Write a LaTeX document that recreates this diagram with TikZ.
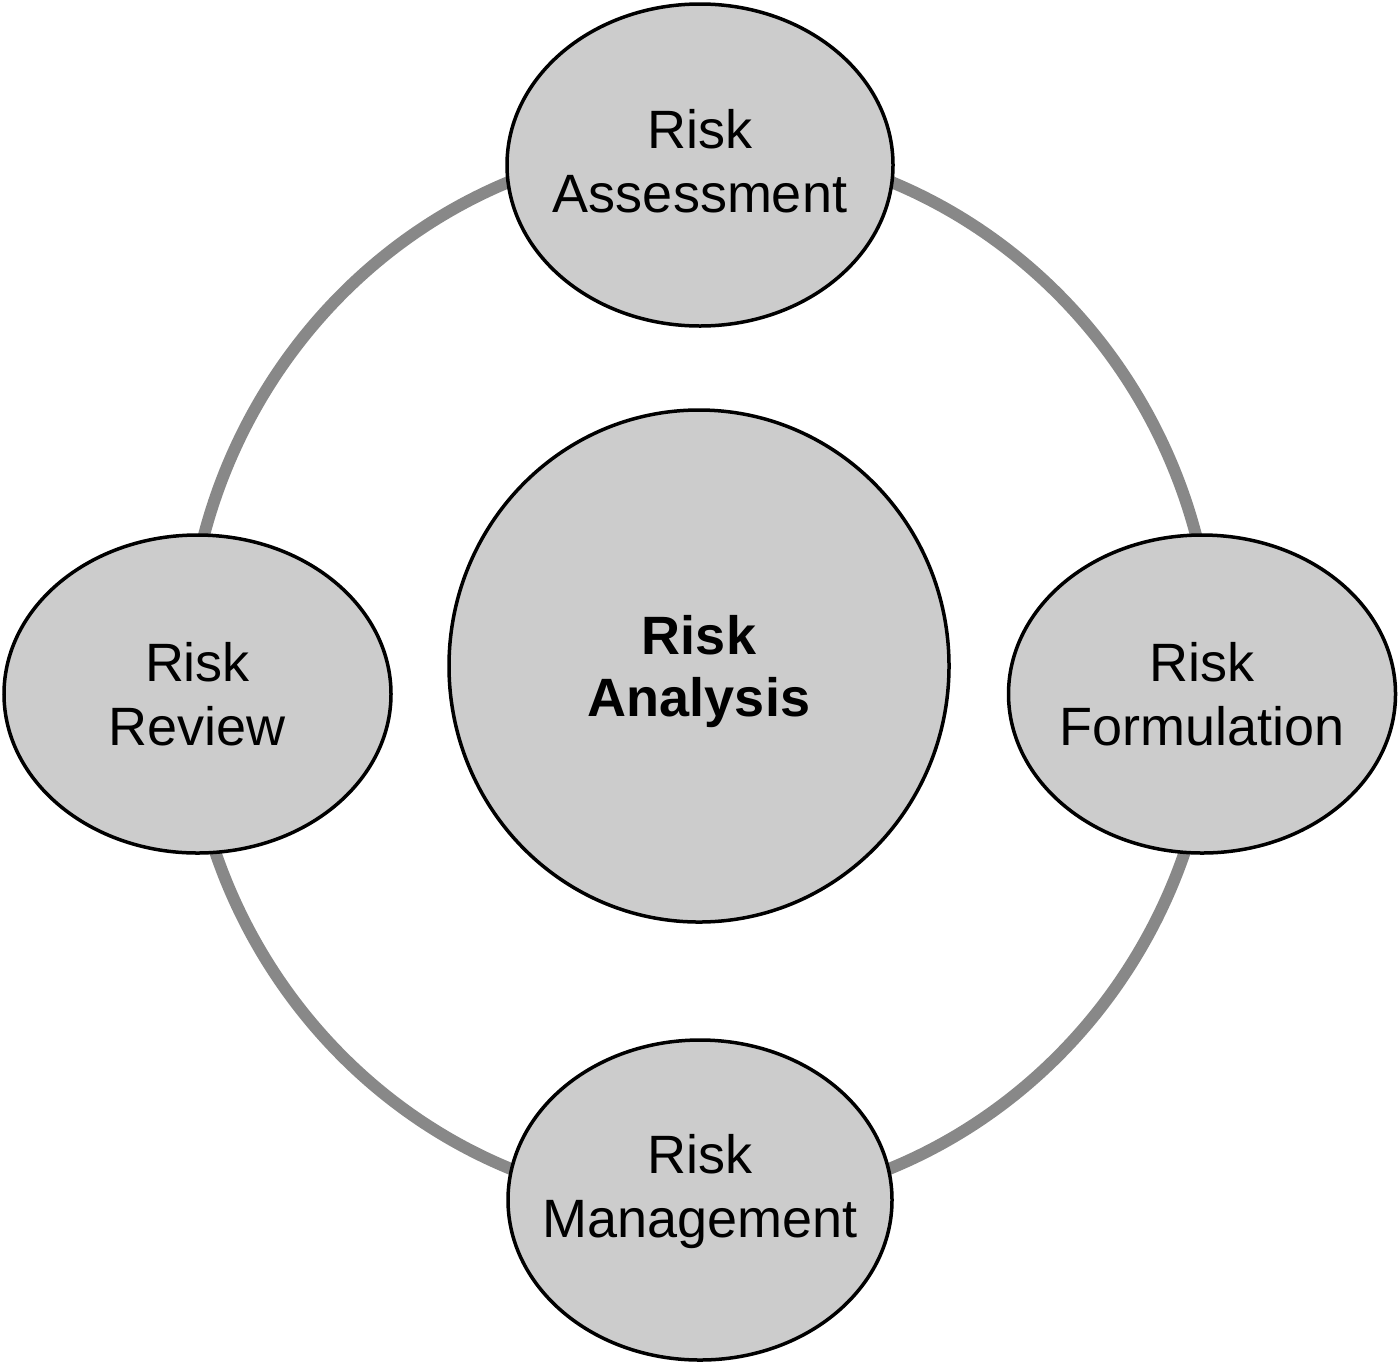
\documentclass[tikz,border=0pt]{standalone}
\usepackage{fontspec}
\setmainfont{Liberation Sans}
\usetikzlibrary{shapes.geometric}
\definecolor{bubfill}{HTML}{CCCCCC}
\definecolor{ringgray}{HTML}{888888}
\tikzset{
  bub/.style={ellipse, draw=black, line width=1.75pt, fill=bubfill, inner sep=0pt},
  txt/.style={align=center, inner sep=0pt, font=\fontsize{27}{32}\selectfont},
  boldtxt/.style={txt, font=\fontsize{27}{31}\selectfont\bfseries},
  ring/.style={draw=ringgray, line width=6pt}
}
\begin{document}
\begin{tikzpicture}[x=0.5pt,y=-0.5pt]
\useasboundingbox (0,0) rectangle (1400,1366);
\coordinate (rc) at (700,675);
\draw[ring] (rc) ellipse [x radius=257pt, y radius=265.5pt];
\node[bub, minimum width=193pt, minimum height=161pt] (A) at (700,165) {};
\node[bub, minimum width=193.5pt, minimum height=159pt] (L) at (197.5,694) {};
\node[bub, minimum width=193.5pt, minimum height=159pt] (R) at (1202,694) {};
\node[bub, minimum width=192pt, minimum height=160pt] (B) at (700,1200) {};
\node[bub, minimum width=250pt, minimum height=256pt] (C) at (699,666) {};
\node[txt] (At) at (700,161) {Risk\\Assessment};
\node[txt] (Lt) at (197.5,694) {Risk\\Review};
\node[txt] (Rt) at (1202,694) {Risk\\Formulation};
\node[txt] (Bt) at (700,1192) {Risk\\Management};
\node[boldtxt] (Ct) at (699,672) {Risk\\Analysis};
\end{tikzpicture}
\end{document}
